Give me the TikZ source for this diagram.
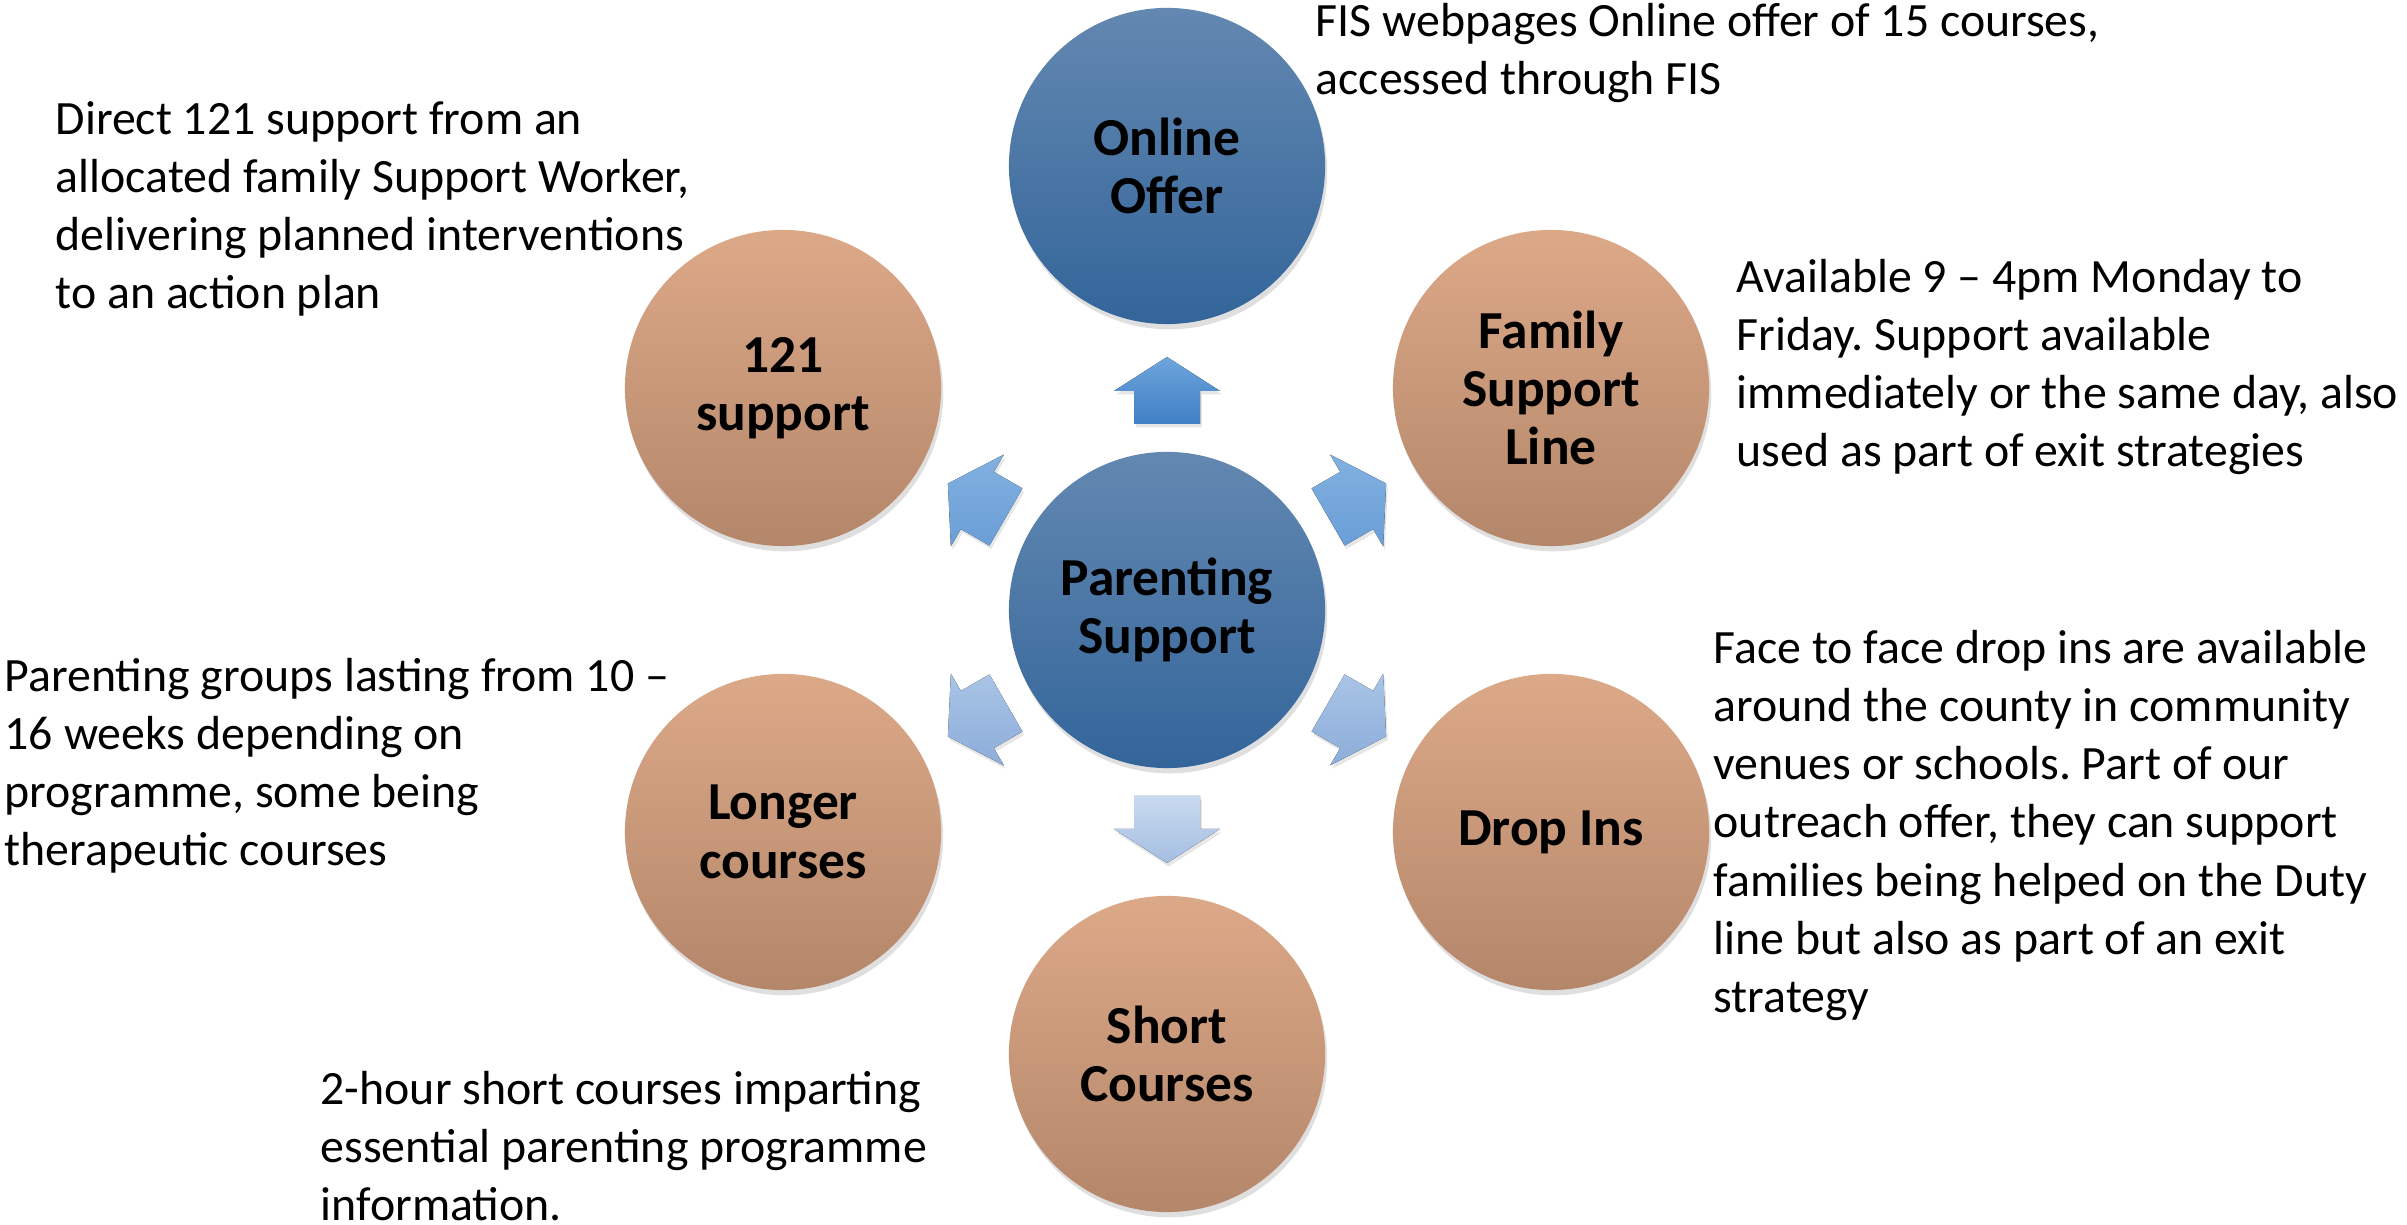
\documentclass[tikz,border=0pt]{standalone}
\usepackage{fontspec}
\setmainfont{Carlito}
\usetikzlibrary{shadows}
\frenchspacing

\definecolor{hubtop}{HTML}{6388B1}
\definecolor{hubbot}{HTML}{33659A}
\definecolor{sattop}{HTML}{DCA988}
\definecolor{satbot}{HTML}{B4866A}
\definecolor{upA}{HTML}{6EA5DC}
\definecolor{upB}{HTML}{3F7FC5}
\definecolor{diagA}{HTML}{82B1E0}
\definecolor{diagB}{HTML}{6A9ED7}
\definecolor{lowA}{HTML}{A9C4E6}
\definecolor{lowB}{HTML}{8CADDA}
\definecolor{downA}{HTML}{C8DAEF}
\definecolor{downB}{HTML}{A5BEE2}

\begin{document}
\begin{tikzpicture}[x=0.01cm,y=0.01cm,
    hubcircle/.style={circle, minimum size=3.16cm, inner sep=0pt, top color=hubtop, bottom color=hubbot,
        drop shadow={opacity=0.25,shadow xshift=0.6pt,shadow yshift=-1.5pt},
        align=center, font=\fontsize{15.2}{16.6}\selectfont\bfseries},
    satcircle/.style={hubcircle, top color=sattop, bottom color=satbot},
    infotext/.style={anchor=north west, inner sep=0pt, align=left, font=\fontsize{13.6}{16.5}\selectfont},
    spoke/.style={drop shadow={opacity=0.2,shadow xshift=0.5pt,shadow yshift=-1pt}}]
    \useasboundingbox (0,0) rectangle (2407,1225);

    % circles
    \node[hubcircle] (hub) at (1167,615) {Parenting\\Support};
    \node[hubcircle] (online) at (1167,1059) {Online\\Offer};
    \node[satcircle] (famline) at (1551,837) {Family\\Support\\Line};
    \node[satcircle] (dropins) at (1551,393) {Drop Ins};
    \node[satcircle] (shortc) at (1167,171) {Short\\Courses};
    \node[satcircle] (longc) at (783,393) {Longer\\courses};
    \node[satcircle] (onetoone) at (783,837) {121\\support};

    % arrows round the hub
    \fill[spoke, top color=upA, bottom color=upB, shift={(hub.center)}, rotate=0]
        (-33,186) -- (33,186) -- (33,219) -- (53,219) -- (0,253) -- (-53,219) -- (-33,219) -- cycle;
    \fill[spoke, top color=diagA, bottom color=diagB, shift={(hub.center)}, rotate=-60]
        (-33,186) -- (33,186) -- (33,219) -- (53,219) -- (0,253) -- (-53,219) -- (-33,219) -- cycle;
    \fill[spoke, top color=diagA, bottom color=diagB, shift={(hub.center)}, rotate=60]
        (-33,186) -- (33,186) -- (33,219) -- (53,219) -- (0,253) -- (-53,219) -- (-33,219) -- cycle;
    \fill[spoke, top color=lowA, bottom color=lowB, shift={(hub.center)}, rotate=-120]
        (-33,186) -- (33,186) -- (33,219) -- (53,219) -- (0,253) -- (-53,219) -- (-33,219) -- cycle;
    \fill[spoke, top color=lowA, bottom color=lowB, shift={(hub.center)}, rotate=120]
        (-33,186) -- (33,186) -- (33,219) -- (53,219) -- (0,253) -- (-53,219) -- (-33,219) -- cycle;
    \fill[spoke, top color=downA, bottom color=downB, shift={(hub.center)}, rotate=180]
        (-33,186) -- (33,186) -- (33,219) -- (53,219) -- (0,253) -- (-53,219) -- (-33,219) -- cycle;

    % texts
    \node[infotext] (onlinetxt) at (1315,1222) {FIS webpages Online offer of 15 courses,\\accessed through FIS};
    \node[infotext] (onetoonetxt) at (55,1124) {Direct 121 support from an\\allocated family Support Worker,\\delivering planned interventions\\to an action plan};
    \node[infotext] (famlinetxt) at (1736,966) {Available 9 – 4pm Monday to\\Friday. Support available\\immediately or the same day, also\\used as part of exit strategies};
    \node[infotext] (longctxt) at (4,567) {Parenting groups lasting from 10 –\\16 weeks depending on\\programme, some being\\therapeutic courses};
    \node[infotext] (dropinstxt) at (1713,595) {Face to face drop ins are available\\around the county in community\\venues or schools. Part of our\\outreach offer, they can support\\families being helped on the Duty\\line but also as part of an exit\\strategy};
    \node[infotext] (shortctxt) at (320,154) {2-hour short courses imparting\\essential parenting programme\\information.};
\end{tikzpicture}
\end{document}
